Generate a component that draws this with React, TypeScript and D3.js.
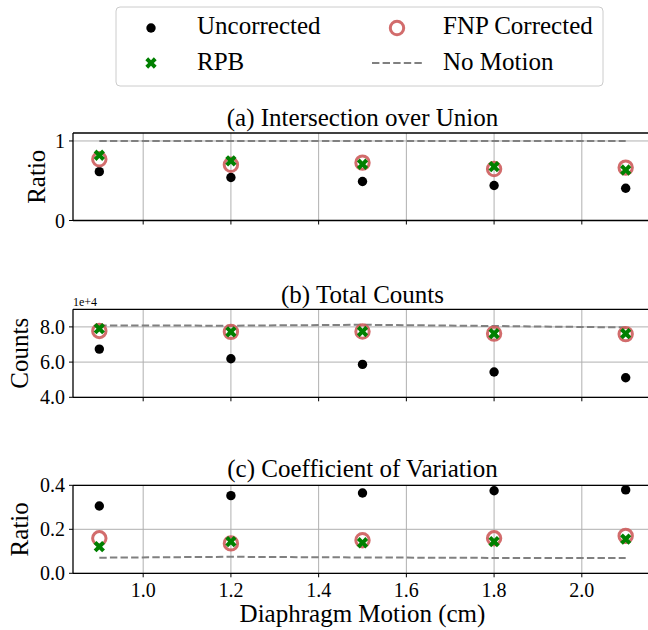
import React from "react";
import * as d3 from "d3";

const motion = [0.9, 1.2, 1.5, 1.8, 2.1];
const xTicks = [1.0, 1.2, 1.4, 1.6, 1.8, 2.0];

const iouUncorrected = [0.614, 0.54, 0.49, 0.44, 0.405];
const iouFNP = [0.77, 0.7, 0.727, 0.648, 0.665];
const iouRPB = [0.82, 0.75, 0.707, 0.677, 0.635];
const iouNoMotion = [1.0, 1.0, 1.0, 1.0, 1.0];
const iouTicks = [0, 1];

const countsUncorrected = [6.74, 6.19, 5.87, 5.44, 5.11];
const countsFNP = [7.77, 7.72, 7.74, 7.62, 7.59];
const countsRPB = [7.9, 7.72, 7.74, 7.62, 7.62];
const countsNoMotion = [8.08, 8.07, 8.12, 8.05, 7.97];
const countsTicks = [4.0, 6.0, 8.0];

const cvUncorrected = [0.306, 0.353, 0.365, 0.375, 0.379];
const cvFNP = [0.159, 0.136, 0.15, 0.159, 0.17];
const cvRPB = [0.121, 0.144, 0.139, 0.144, 0.155];
const cvNoMotion = [0.071, 0.075, 0.072, 0.07, 0.07];
const cvTicks = [0.0, 0.2, 0.4];

const FONT = "'Liberation Serif', 'DejaVu Serif', serif";
const FNP_COLOR = "#cd5c5c";
const RPB_COLOR = "#008000";
const NM_COLOR = "#808080";
const GRID = "#b0b0b0";

const X0 = 73;
const X1 = 652;

const xScale = d3.scaleLinear().domain([0.84, 2.16]).range([X0, X1]);

type Panel = {
  title: string;
  ylabel: string;
  top: number;
  bottom: number;
  domain: [number, number];
  ticks: number[];
  fmt: (v: number) => string;
  unc: number[];
  fnp: number[];
  rpb: number[];
  nm: number[];
  titleY: number;
  ylabelX: number;
  offset?: string;
};

const panels: Panel[] = [
  {
    title: "(a) Intersection over Union",
    ylabel: "Ratio",
    top: 133,
    bottom: 220.5,
    domain: [0, 1.1],
    ticks: iouTicks,
    fmt: (v) => d3.format("d")(v),
    unc: iouUncorrected,
    fnp: iouFNP,
    rpb: iouRPB,
    nm: iouNoMotion,
    titleY: 126,
    ylabelX: 45,
  },
  {
    title: "(b) Total Counts",
    ylabel: "Counts",
    top: 309.3,
    bottom: 397.3,
    domain: [4, 9],
    ticks: countsTicks,
    fmt: (v) => d3.format(".1f")(v),
    unc: countsUncorrected,
    fnp: countsFNP,
    rpb: countsRPB,
    nm: countsNoMotion,
    titleY: 303,
    ylabelX: 28,
    offset: "1e+4",
  },
  {
    title: "(c) Coefficient of Variation",
    ylabel: "Ratio",
    top: 485.3,
    bottom: 573.3,
    domain: [0, 0.4],
    ticks: cvTicks,
    fmt: (v) => d3.format(".1f")(v),
    unc: cvUncorrected,
    fnp: cvFNP,
    rpb: cvRPB,
    nm: cvNoMotion,
    titleY: 477,
    ylabelX: 28,
  },
];

const xPath = d3.symbol().type(d3.symbolCross).size(80)() as string;

function XMarker({ x, y }: { x: number; y: number }) {
  return <path d={xPath} transform={`translate(${x},${y}) rotate(45)`} fill={RPB_COLOR} />;
}

function PanelView({ p, last }: { p: Panel; last: boolean }) {
  const y = d3.scaleLinear().domain(p.domain).range([p.bottom, p.top]);
  const line = d3
    .line<number>()
    .x((_, i) => xScale(motion[i]))
    .y((d) => y(d));
  const cx = (X0 + X1) / 2;
  const cy = (p.top + p.bottom) / 2;
  return (
    <g>
      {xTicks.map((t) => (
        <line key={"gx" + t} x1={xScale(t)} x2={xScale(t)} y1={p.top} y2={p.bottom} stroke={GRID} strokeWidth={1} />
      ))}
      {p.ticks.map((t) => (
        <line key={"gy" + t} x1={X0} x2={X1} y1={y(t)} y2={y(t)} stroke={GRID} strokeWidth={1} />
      ))}
      <path d={line(p.nm) as string} fill="none" stroke={NM_COLOR} strokeWidth={2} strokeDasharray="7.4,3.2" />
      {p.unc.map((v, i) => (
        <circle key={"u" + i} cx={xScale(motion[i])} cy={y(v)} r={4.7} fill="#000" />
      ))}
      {p.fnp.map((v, i) => (
        <circle key={"f" + i} cx={xScale(motion[i])} cy={y(v)} r={6.7} fill="none" stroke={FNP_COLOR} strokeWidth={3} opacity={0.9} />
      ))}
      {p.rpb.map((v, i) => (
        <XMarker key={"r" + i} x={xScale(motion[i])} y={y(v)} />
      ))}
      <line x1={X0} x2={X1} y1={p.top} y2={p.top} stroke="#000" strokeWidth={1.3} />
      <line x1={X0} x2={X1} y1={p.bottom} y2={p.bottom} stroke="#000" strokeWidth={1.3} />
      <line x1={X0} x2={X0} y1={p.top} y2={p.bottom} stroke="#000" strokeWidth={1.3} />
      {p.ticks.map((t) => (
        <g key={"yt" + t}>
          <line x1={X0 - 4} x2={X0} y1={y(t)} y2={y(t)} stroke="#000" strokeWidth={1} />
          <text x={X0 - 8} y={y(t)} dy="0.35em" textAnchor="end" fontSize={20} fontFamily={FONT} fill="#000">
            {p.fmt(t)}
          </text>
        </g>
      ))}
      {xTicks.map((t) => (
        <g key={"xt" + t}>
          <line x1={xScale(t)} x2={xScale(t)} y1={p.bottom} y2={p.bottom + 4} stroke="#000" strokeWidth={1} />
          {last && (
            <text x={xScale(t)} y={597} textAnchor="middle" fontSize={20} fontFamily={FONT} fill="#000">
              {d3.format(".1f")(t)}
            </text>
          )}
        </g>
      ))}
      <text x={cx} y={p.titleY} textAnchor="middle" fontSize={25} fontFamily={FONT} fill="#000">
        {p.title}
      </text>
      <text
        transform={`translate(${p.ylabelX},${cy}) rotate(-90)`}
        textAnchor="middle"
        fontSize={25}
        fontFamily={FONT}
        fill="#000"
      >
        {p.ylabel}
      </text>
      {p.offset && (
        <text x={X0} y={p.top - 3} fontSize={12} fontFamily={FONT} fill="#000">
          {p.offset}
        </text>
      )}
    </g>
  );
}

export default function App() {
  return (
    <svg width={648} height={630} style={{ position: "absolute", left: 0, top: 0, background: "#fff" }}>
      <rect x={0} y={0} width={648} height={630} fill="#fff" />
      <rect x={116} y={7} width={487} height={79} rx={4} fill="#fff" stroke="#cccccc" strokeWidth={1} />
      <circle cx={151} cy={28} r={4.7} fill="#000" />
      <text x={197} y={34} fontSize={25} fontFamily={FONT} fill="#000">Uncorrected</text>
      <XMarker x={151} y={63} />
      <text x={197} y={70} fontSize={25} fontFamily={FONT} fill="#000">RPB</text>
      <circle cx={397} cy={28} r={6.7} fill="none" stroke={FNP_COLOR} strokeWidth={3} opacity={0.9} />
      <text x={443} y={34} fontSize={25} fontFamily={FONT} fill="#000">FNP Corrected</text>
      <line x1={372} x2={422} y1={63} y2={63} stroke={NM_COLOR} strokeWidth={2} strokeDasharray="7.4,3.2" />
      <text x={443} y={70} fontSize={25} fontFamily={FONT} fill="#000">No Motion</text>
      {panels.map((p, i) => (
        <PanelView key={i} p={p} last={i === panels.length - 1} />
      ))}
      <text x={(X0 + X1) / 2} y={622} textAnchor="middle" fontSize={25} fontFamily={FONT} fill="#000">
        Diaphragm Motion (cm)
      </text>
    </svg>
  );
}
